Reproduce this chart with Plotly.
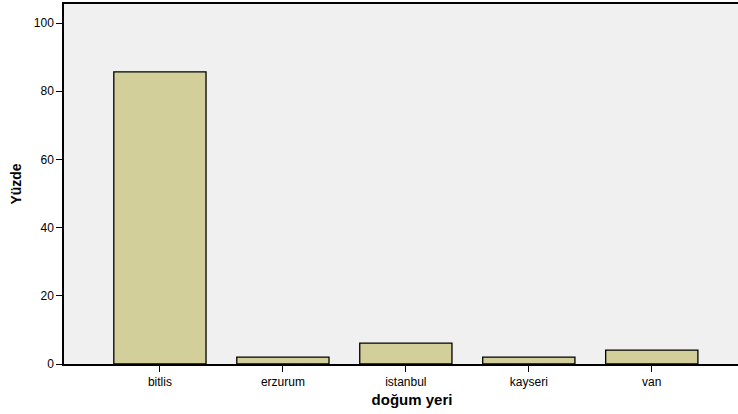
import plotly.graph_objects as go

places = ["bitlis", "erzurum", "istanbul", "kayseri", "van"]
percent = [85.71, 2.04, 6.12, 2.04, 4.08]
y_ticks = [0, 20, 40, 60, 80, 100]

fig = go.Figure(go.Bar(
    x=list(range(len(places))), y=percent, width=0.75,
    marker=dict(color="#D3CF9A", line=dict(color="black", width=1.3)),
))

# the plot runs off the right edge of the window, like the reference
fig.update_layout(
    width=760, height=414,
    margin=dict(l=64, r=0, t=4, b=50),
    paper_bgcolor="white", plot_bgcolor="#F0F0F0",
    font=dict(family="Liberation Sans, Arial, sans-serif", size=12, color="black"),
    showlegend=False,
)
fig.update_xaxes(
    range=[-0.78, 4.88], tickvals=list(range(len(places))), ticktext=places,
    ticks="outside", ticklen=6, tickcolor="black", showline=True, linecolor="black",
    linewidth=1.5, mirror=True, showgrid=False, zeroline=False, automargin=False,
    title=dict(text="<b>doğum yeri</b>", font=dict(size=15), standoff=6),
)
fig.update_yaxes(
    range=[0, 105.6], tickvals=y_ticks, ticks="outside", ticklen=6, tickcolor="black",
    showline=True, linecolor="black", linewidth=1.5, mirror=False, showgrid=False,
    zeroline=False, automargin=False,
    title=dict(text="<b>Yüzde</b>", font=dict(size=14), standoff=9),
)

# drop the default page margin so the figure fills the window
fig.write_html(
    "out.html",
    config={"displayModeBar": False},
    post_script="document.body.style.margin='0';document.body.style.overflow='hidden';",
)
